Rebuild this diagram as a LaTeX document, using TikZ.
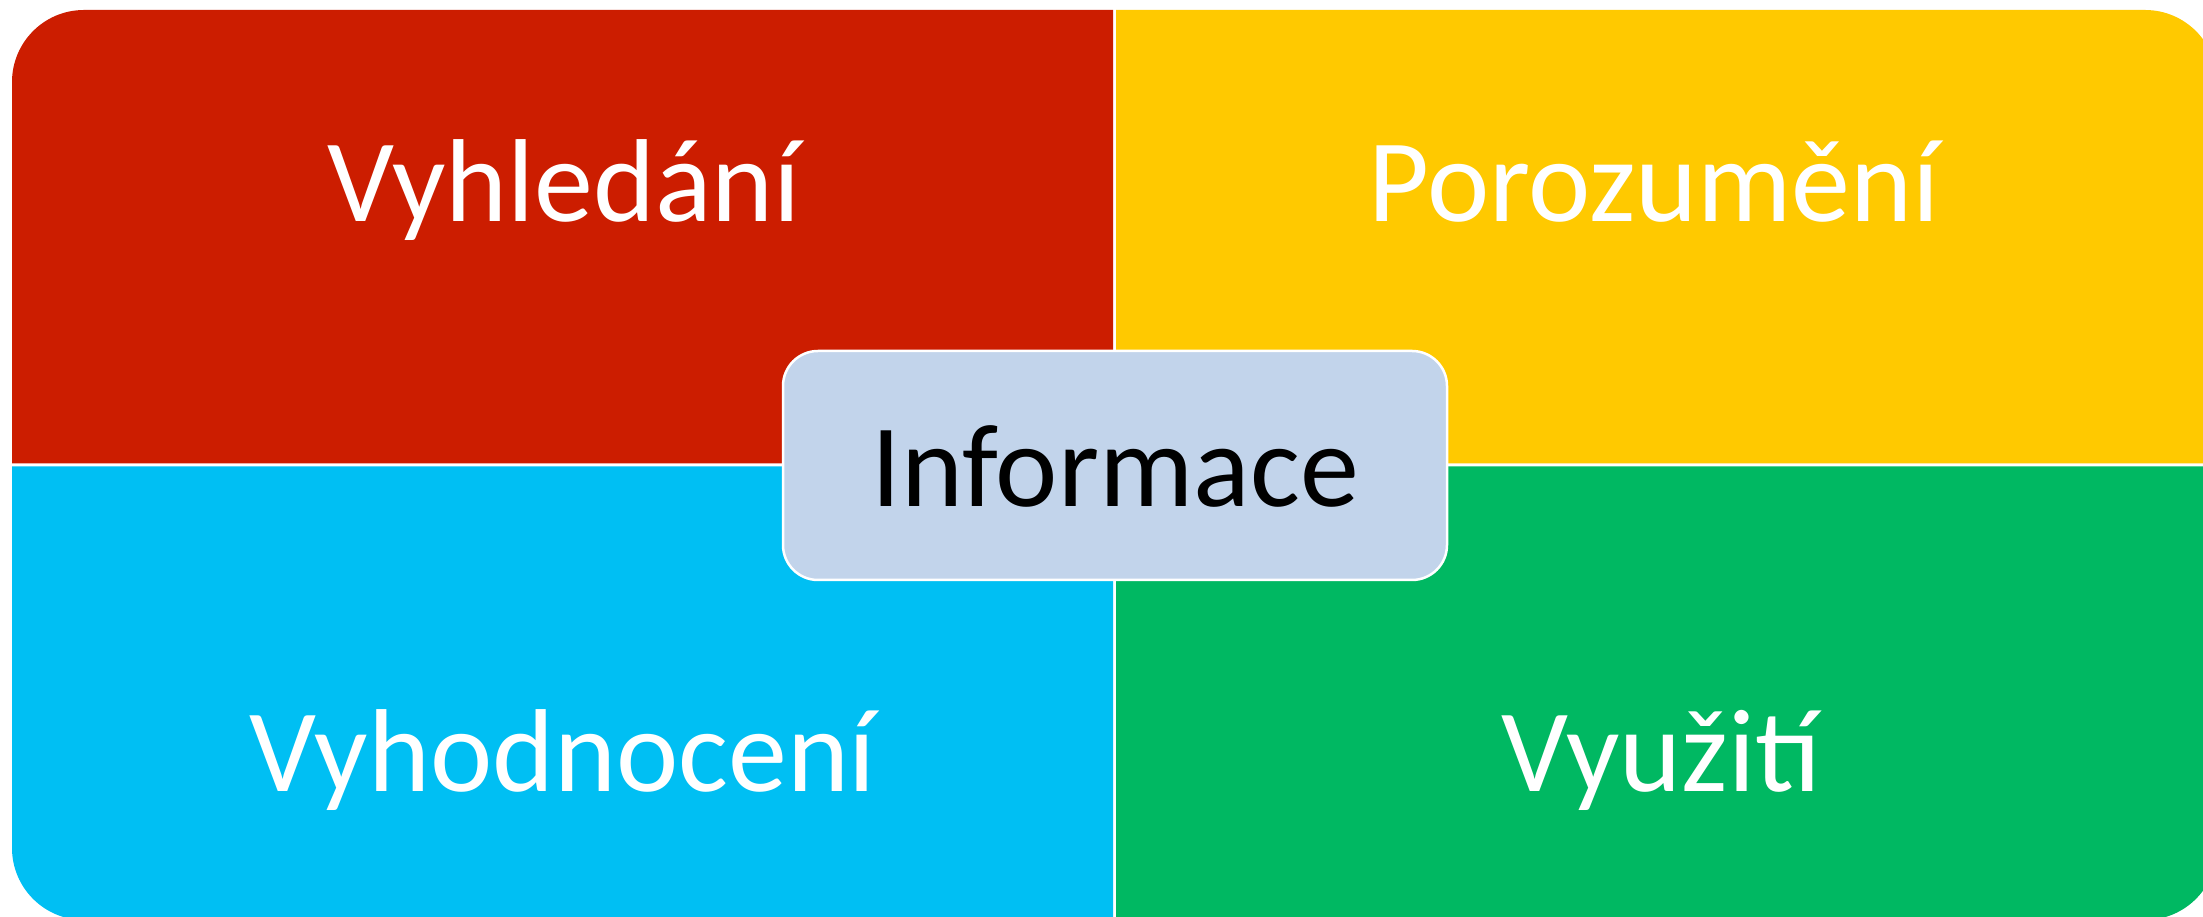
\documentclass[tikz,border=0pt]{standalone}
\usepackage{fontspec}
\setmainfont{Carlito}
\definecolor{redq}{RGB}{204,29,0}
\definecolor{yellowq}{RGB}{255,201,0}
\definecolor{blueq}{RGB}{0,191,243}
\definecolor{greenq}{RGB}{0,184,98}
\definecolor{boxc}{RGB}{194,212,235}
\begin{document}
\begin{tikzpicture}[x=1pt,y=1pt,
  qlabel/.style={anchor=base,text=white,inner sep=0pt,font=\fontsize{118}{140}\selectfont},
  centerbox/.style={draw=white,line width=2.5pt,fill=boxc,rounded corners=35pt,
    minimum width=664pt,minimum height=229pt,inner sep=0pt,
    text height=83pt,text depth=0pt,font=\fontsize{118}{140}\selectfont}]
\useasboundingbox (0,0) rectangle (2203,917);
\fill[white] (0,0) rectangle (2203,917);
% quadrants
\fill[redq] (12,453.5) -- (12,835) arc[start angle=180,end angle=90,radius=72pt] -- (1113,907) -- (1113,453.5) -- cycle;
\fill[yellowq] (1116,453.5) -- (1116,907) -- (2145,907) arc[start angle=90,end angle=0,radius=72pt] -- (2217,453.5) -- cycle;
\fill[blueq] (12,450.5) -- (12,69) arc[start angle=180,end angle=270,radius=72pt] -- (1113,-3) -- (1113,450.5) -- cycle;
\fill[greenq] (1116,450.5) -- (1116,-3) -- (2145,-3) arc[start angle=270,end angle=360,radius=72pt] -- (2217,450.5) -- cycle;
% labels
\node[qlabel] (vyh) at (564,695) {Vyhledání};
\node[qlabel] (por) at (1654,695) {Porozumění};
\node[qlabel] (vyhod) at (563,125) {Vyhodnocení};
\node[qlabel] (vyu) at (1661,125) {Využití};
% center
\node[centerbox] (info) at (1115,451.5) {Informace};
\end{tikzpicture}
\end{document}
